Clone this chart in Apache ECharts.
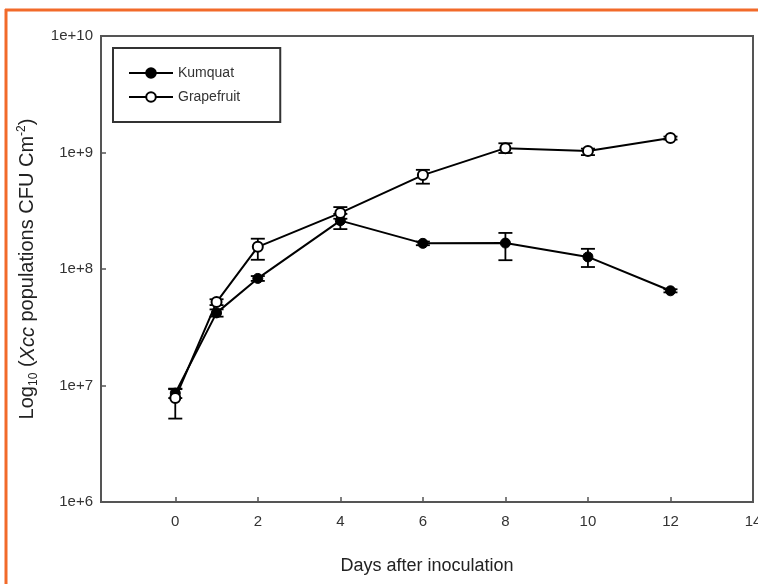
<!DOCTYPE html>
<html>
<head>
<meta charset="utf-8">
<script src="https://cdn.jsdelivr.net/npm/echarts@6/dist/echarts.min.js"></script>
<style>
html,body{margin:0;padding:0;background:#fff;}
#c{width:758px;height:584px;}
</style>
</head>
<body>
<div id="c"></div>
<script>
const days = [0, 1, 2, 4, 6, 8, 10, 12];
const kumquat = [8.6e6, 4.2e7, 8.3e7, 2.6e8, 1.66e8, 1.67e8, 1.27e8, 6.5e7];
const kumquatLow = [7.8e6, 3.9e7, 7.9e7, 2.2e8, 1.6e8, 1.19e8, 1.04e8, 6.3e7];
const kumquatHigh = [9.4e6, 4.5e7, 8.7e7, 2.97e8, 1.72e8, 2.04e8, 1.49e8, 6.7e7];
const grapefruit = [7.8e6, 5.2e7, 1.55e8, 3.03e8, 6.4e8, 1.09e9, 1.03e9, 1.33e9];
const grapefruitLow = [5.2e6, 4.9e7, 1.2e8, 2.7e8, 5.4e8, 0.99e9, 0.95e9, 1.29e9];
const grapefruitHigh = [9.3e6, 5.5e7, 1.82e8, 3.4e8, 7.1e8, 1.2e9, 1.08e9, 1.37e9];
const xTicks = [0, 2, 4, 6, 8, 10, 12, 14];

const FONT = '"Liberation Sans", Arial, sans-serif';
const chart = echarts.init(document.getElementById('c'), null, {renderer: 'canvas'});

function errSeries(name, lo, hi) {
  return {
    name: name + ' err',
    type: 'custom',
    z: 1,
    silent: true,
    encode: {x: 0, y: [1, 2]},
    data: days.map((d, i) => [d, lo[i], hi[i]]),
    renderItem: function (params, api) {
      const x = api.value(0);
      const p1 = api.coord([x, api.value(1)]);
      const p2 = api.coord([x, api.value(2)]);
      const hw = 7;
      const st = {stroke: '#000', lineWidth: 1.8};
      return {
        type: 'group',
        children: [
          {type: 'line', shape: {x1: p1[0], y1: p1[1], x2: p2[0], y2: p2[1]}, style: st},
          {type: 'line', shape: {x1: p1[0] - hw, y1: p1[1], x2: p1[0] + hw, y2: p1[1]}, style: st},
          {type: 'line', shape: {x1: p2[0] - hw, y1: p2[1], x2: p2[0] + hw, y2: p2[1]}, style: st}
        ]
      };
    }
  };
}

const option = {
  animation: false,
  backgroundColor: '#fff',
  textStyle: {fontFamily: FONT},
  grid: {left: 101, right: 5, top: 36, bottom: 82, outerBoundsMode: 'none', containLabel: false,
         show: true, borderColor: '#555', borderWidth: 2, backgroundColor: 'transparent'},
  legend: {
    orient: 'vertical',
    left: 113,
    top: 48,
    padding: [18, 40, 18, 15],
    itemWidth: 44,
    itemHeight: 12,
    itemGap: 10,
    borderColor: '#333',
    borderWidth: 2,
    textStyle: {fontSize: 14, color: '#333', fontFamily: FONT},
    data: ['Kumquat', 'Grapefruit']
  },
  xAxis: {
    type: 'value',
    min: -1.8,
    max: 14,
    axisLine: {show: true, onZero: false, lineStyle: {color: '#555', width: 2}},
    axisTick: {show: true, inside: true, length: 5, lineStyle: {color: '#555', width: 1.5}, customValues: xTicks},
    axisLabel: {fontSize: 15, color: '#333', margin: 12, fontFamily: FONT, customValues: xTicks},
    splitLine: {show: false},
    name: 'Days after inoculation',
    nameLocation: 'middle',
    nameGap: 55,
    nameTextStyle: {fontSize: 18, color: '#222', fontFamily: FONT}
  },
  yAxis: {
    type: 'log',
    logBase: 10,
    min: 1e6,
    max: 1e10,
    axisLine: {show: true, onZero: false, lineStyle: {color: '#555', width: 2}},
    axisTick: {show: true, inside: true, length: 5, lineStyle: {color: '#555', width: 1.5}},
    minorTick: {show: false},
    axisLabel: {
      fontSize: 15, color: '#333', margin: 8, fontFamily: FONT,
      formatter: function (v) { return '1e+' + Math.round(Math.log10(v)); }
    },
    splitLine: {show: false},
    name: '{a|Log}{sub|10}{a| (}{i|Xcc}{a| populations CFU Cm}{sup|-2}{a|)}',
    nameLocation: 'middle',
    nameGap: 58,
    nameTextStyle: {
      fontSize: 20, color: '#222', fontFamily: FONT,
      rich: {
        a: {fontSize: 20, color: '#222', fontFamily: FONT, lineHeight: 24},
        i: {fontSize: 20, color: '#222', fontFamily: FONT, fontStyle: 'italic', lineHeight: 24},
        sub: {fontSize: 12, color: '#222', fontFamily: FONT, verticalAlign: 'bottom', lineHeight: 13},
        sup: {fontSize: 12, color: '#222', fontFamily: FONT, verticalAlign: 'top', lineHeight: 13}
      }
    }
  },
  series: [
    errSeries('Kumquat', kumquatLow, kumquatHigh),
    errSeries('Grapefruit', grapefruitLow, grapefruitHigh),
    {
      name: 'Kumquat',
      type: 'line',
      z: 3,
      data: days.map((d, i) => [d, kumquat[i]]),
      symbol: 'circle',
      symbolSize: 10,
      lineStyle: {color: '#000', width: 2},
      itemStyle: {color: '#000', borderColor: '#000', borderWidth: 1}
    },
    {
      name: 'Grapefruit',
      type: 'line',
      z: 4,
      data: days.map((d, i) => [d, grapefruit[i]]),
      symbol: 'circle',
      symbolSize: 10,
      lineStyle: {color: '#000', width: 2},
      itemStyle: {color: '#fff', borderColor: '#000', borderWidth: 2}
    }
  ],
  graphic: [
    {type: 'line', shape: {x1: 5, y1: 10, x2: 758, y2: 10}, style: {stroke: '#f26a2a', lineWidth: 3}, z: 100},
    {type: 'line', shape: {x1: 6, y1: 9, x2: 6, y2: 584}, style: {stroke: '#f26a2a', lineWidth: 3}, z: 100}
  ]
};
chart.setOption(option);
</script>
</body>
</html>
